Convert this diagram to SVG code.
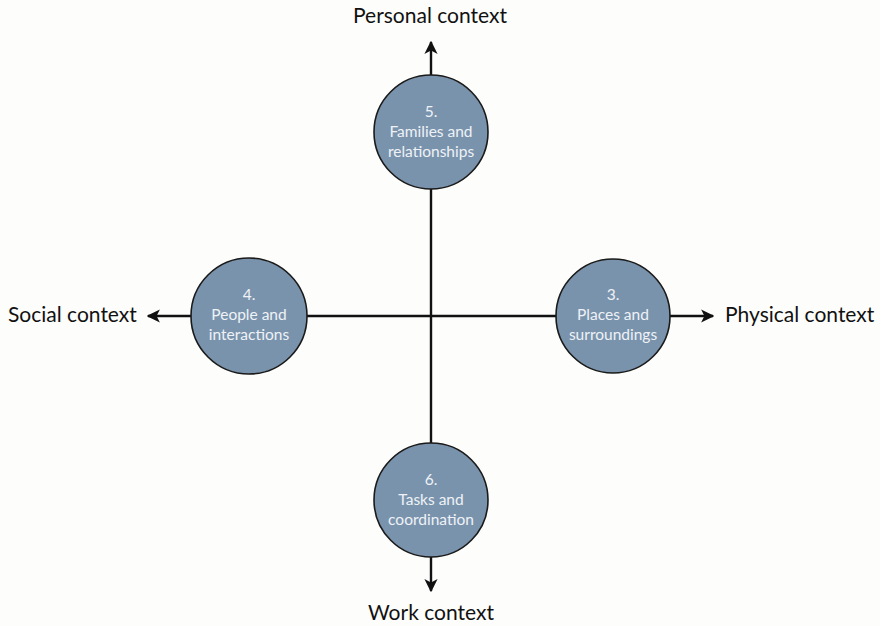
<svg xmlns="http://www.w3.org/2000/svg" width="880" height="626" viewBox="0 0 880 626">
  <style>
    .axis { stroke: #111; stroke-width: 2.4; fill: none; }
    .node circle { fill: #7a93ad; stroke: #1a1a1a; stroke-width: 1.6; }
    .node text { font-family: Lato, "Open Sans", sans-serif; font-size: 15.5px; fill: #eef2f6; text-anchor: middle; }
    .label { font-family: Lato, "Open Sans", sans-serif; font-size: 21px; fill: #111; }
  </style>
  <defs>
    <marker id="arrow" viewBox="0 0 10 10" refX="9" refY="5" markerWidth="5.5" markerHeight="5.5" orient="auto" markerUnits="strokeWidth">
      <path d="M0,0 L10,5 L0,10 L2.5,5 Z" fill="#111"/>
    </marker>
  </defs>
  <rect width="880" height="626" fill="#fdfdfb"/>

  <g id="connectors">
    <line class="axis" x1="431" y1="316" x2="431" y2="42" marker-end="url(#arrow)"/>
    <line class="axis" x1="431" y1="316" x2="431" y2="591" marker-end="url(#arrow)"/>
    <line class="axis" x1="431" y1="316" x2="148" y2="316" marker-end="url(#arrow)"/>
    <line class="axis" x1="431" y1="316" x2="713" y2="316" marker-end="url(#arrow)"/>
  </g>

  <g id="node-families" class="node">
    <circle cx="431" cy="132" r="57"/>
    <text x="431" y="117">5.</text>
    <text x="431" y="137">Families and</text>
    <text x="431" y="157">relationships</text>
  </g>
  <g id="node-people" class="node">
    <circle cx="249" cy="316" r="58"/>
    <text x="249" y="300">4.</text>
    <text x="249" y="320">People and</text>
    <text x="249" y="340">interactions</text>
  </g>
  <g id="node-places" class="node">
    <circle cx="613" cy="316" r="57"/>
    <text x="613" y="300">3.</text>
    <text x="613" y="320">Places and</text>
    <text x="613" y="340">surroundings</text>
  </g>
  <g id="node-tasks" class="node">
    <circle cx="431" cy="500" r="57"/>
    <text x="431" y="485">6.</text>
    <text x="431" y="505">Tasks and</text>
    <text x="431" y="525">coordination</text>
  </g>

  <g id="axis-labels">
    <text class="label" x="430" y="23" text-anchor="middle">Personal context</text>
    <text class="label" x="8" y="322">Social context</text>
    <text class="label" x="725" y="322">Physical context</text>
    <text class="label" x="431" y="620" text-anchor="middle">Work context</text>
  </g>
</svg>
